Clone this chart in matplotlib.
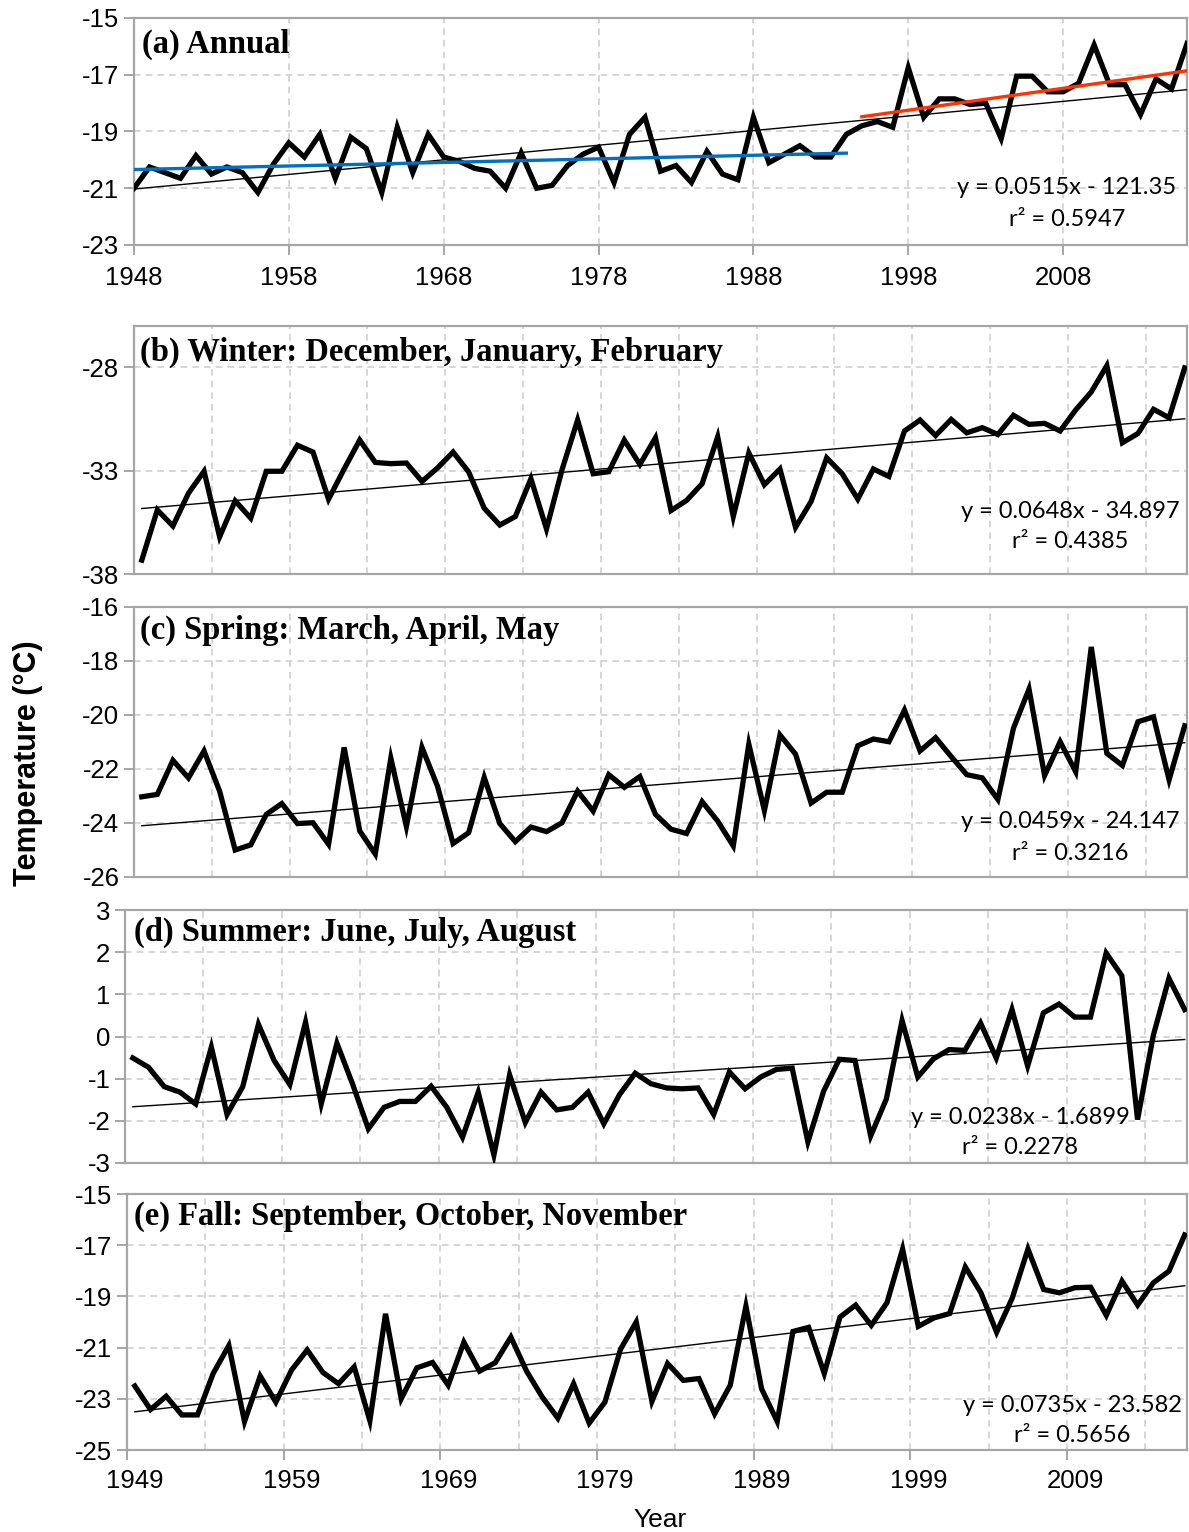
import numpy as np
import matplotlib
matplotlib.use("Agg")
import matplotlib.pyplot as plt

plt.rcParams["axes.unicode_minus"] = False

# ---------------- data ----------------
years_annual = list(range(1948, 2017))
annual = [-21.0, -20.25, -20.45, -20.65, -19.85, -20.5, -20.25, -20.45, -21.15, -20.15,
          -19.4, -19.9, -19.1, -20.65, -19.2, -19.6, -21.15, -18.85, -20.45, -19.1,
          -19.9, -20.05, -20.3, -20.4, -21.0, -19.75, -21.0, -20.9, -20.2, -19.8,
          -19.55, -20.8, -19.1, -18.5, -20.4, -20.2, -20.8, -19.7, -20.5, -20.7,
          -18.5, -20.1, -19.8, -19.5, -19.9, -19.9, -19.1, -18.8, -18.65, -18.85,
          -16.75, -18.5, -17.85, -17.85, -18.05, -18.0, -19.25, -17.05, -17.05, -17.6,
          -17.6, -17.3, -15.95, -17.35, -17.35, -18.4, -17.15, -17.5, -15.9]

years_season = list(range(1949, 2017))
winter = [-37.33, -34.9, -35.68, -34.09, -33.03, -36.2, -34.46, -35.3, -33.03, -33.03,
          -31.77, -32.1, -34.38, -32.92, -31.52, -32.6, -32.66, -32.63, -33.52, -32.87,
          -32.1, -33.06, -34.82, -35.63, -35.22, -33.39, -35.82, -32.95, -30.55, -33.15,
          -33.05, -31.52, -32.7, -31.41, -34.93, -34.44, -33.63, -31.36, -35.22, -32.14,
          -33.68, -32.92, -35.74, -34.49, -32.38, -33.15, -34.38, -32.92, -33.28, -31.08,
          -30.55, -31.3, -30.52, -31.17, -30.92, -31.25, -30.32, -30.76, -30.71, -31.08,
          -30.06, -29.19, -27.92, -31.65, -31.2, -30.03, -30.44, -28.03]
spring = [-23.03, -22.94, -21.68, -22.33, -21.33, -22.82, -25.0, -24.81, -23.68, -23.28,
          -24.02, -23.99, -24.79, -21.2, -24.29, -25.15, -21.6, -24.13, -21.2, -22.64,
          -24.76, -24.36, -22.31, -24.02, -24.69, -24.15, -24.32, -23.99, -22.82, -23.56,
          -22.21, -22.68, -22.28, -23.68, -24.23, -24.39, -23.21, -23.93, -24.85, -21.08,
          -23.54, -20.74, -21.45, -23.26, -22.86, -22.86, -21.14, -20.89, -20.99, -19.82,
          -21.33, -20.84, -21.54, -22.21, -22.33, -23.13, -20.49, -19.04, -22.24, -20.99,
          -22.1, -17.48, -21.42, -21.87, -20.25, -20.07, -22.4, -20.4]
summer = [-0.51, -0.73, -1.19, -1.32, -1.6, -0.25, -1.85, -1.19, 0.29, -0.57,
          -1.14, 0.34, -1.6, -0.16, -1.13, -2.19, -1.68, -1.54, -1.54, -1.18,
          -1.68, -2.39, -1.32, -2.81, -0.91, -2.04, -1.32, -1.74, -1.68, -1.32,
          -2.07, -1.38, -0.87, -1.12, -1.22, -1.24, -1.22, -1.85, -0.84, -1.24,
          -0.96, -0.78, -0.75, -2.5, -1.3, -0.54, -0.57, -2.36, -1.48, 0.38,
          -0.96, -0.53, -0.31, -0.33, 0.32, -0.51, 0.64, -0.70, 0.56, 0.77,
          0.46, 0.46, 1.98, 1.44, -1.97, 0.02, 1.38, 0.64]
fall = [-22.5, -23.42, -22.9, -23.63, -23.63, -22.01, -20.92, -23.89, -22.11, -23.13,
        -21.88, -21.09, -21.97, -22.41, -21.75, -23.86, -19.68, -23.0, -21.79, -21.58,
        -22.47, -20.79, -21.92, -21.59, -20.59, -21.92, -22.93, -23.76, -22.41, -23.95,
        -23.13, -21.06, -20.0, -23.1, -21.62, -22.28, -22.21, -23.59, -22.47, -19.38,
        -22.61, -23.89, -20.37, -20.21, -22.01, -19.81, -19.34, -20.13, -19.25, -17.15,
        -20.17, -19.84, -19.67, -17.85, -18.86, -20.40, -19.06, -17.15, -18.73, -18.86,
        -18.66, -18.64, -19.74, -18.4, -19.34, -18.47, -18.01, -16.6]

# trend equations as printed on the chart (x = year for annual, x = index for seasons)
eq_annual = (0.0515, -121.35, 0.5947)
eq_winter = (0.0648, -34.897, 0.4385)
eq_spring = (0.0459, -24.147, 0.3216)
eq_summer = (0.0238, -1.6899, 0.2278)
eq_fall = (0.0735, -23.582, 0.5656)

split_year = 1994  # blue fit up to this year, red fit after

panel_titles = ["(a) Annual", "(b) Winter: December, January, February",
                "(c) Spring: March, April, May", "(d) Summer: June, July, August",
                "(e) Fall: September, October, November"]

# ---------------- layout ----------------
W, H = 1189, 1532
fig = plt.figure(figsize=(W / 100, H / 100), dpi=100)

def rect(l, t, r, b):
    return [l / W, 1 - b / H, (r - l) / W, (b - t) / H]

SP = "#a6a6a6"
GR = "#d0d0d0"
TICKSIZE = 18.5
TITLEFONT = dict(family="Liberation Serif", weight="bold", size=23.5)
EQFONT = dict(family="Lato", size=17)

def style(ax):
    for s in ax.spines.values():
        s.set_color(SP)
        s.set_linewidth(1.6)
    ax.tick_params(axis="both", colors=SP, labelcolor="black", width=1.4, length=7,
                   direction="out", labelsize=TICKSIZE)
    for lab in ax.get_yticklabels() + ax.get_xticklabels():
        lab.set_fontfamily("Liberation Sans")
    ax.set_axisbelow(True)

def hgrid(ax, vals):
    for v in vals:
        ax.axhline(v, color=GR, lw=1.2, ls=(0, (4, 3)), zorder=0)

def vgrid(ax, vals):
    for v in vals:
        ax.axvline(v, color=GR, lw=1.2, ls=(0, (4, 3)), zorder=0)

def eqtext(cx, cy, eq, sep=32):
    s, i, r2 = eq
    sign = "-" if i < 0 else "+"
    fig.text(cx / W, 1 - cy / H, f"y = {s:g}x {sign} {abs(i):g}", ha="center", va="center", **EQFONT)
    fig.text(cx / W, 1 - (cy + sep) / H, f"r\u00b2 = {r2:.4f}", ha="center", va="center", **EQFONT)

LW = 3.8

# ----- (a) annual -----
ax = fig.add_axes(rect(134, 18, 1187, 245))
ya = np.array(years_annual)
va = np.array(annual)
ax.plot(ya, va, color="black", lw=LW, solid_joinstyle="miter", zorder=3)
ax.plot(ya, eq_annual[0] * ya + eq_annual[1], color="black", lw=1.0, zorder=4)
m1 = ya <= split_year
p1 = np.polyfit(ya[m1], va[m1], 1)
ax.plot(ya[m1], np.polyval(p1, ya[m1]), color="#0070C0", lw=2.4, zorder=5)
m2 = ya > split_year
p2 = np.polyfit(ya[m2], va[m2], 1)
ax.plot(ya[m2], np.polyval(p2, ya[m2]), color="#FF3300", lw=2.4, zorder=5)
ax.set_xlim(1948, 2016)
ax.set_ylim(-23, -15)
ax.set_xticks(np.arange(1948, 2009, 10))
ax.set_yticks(np.arange(-23, -14, 2))
hgrid(ax, np.arange(-21, -14, 2))
vgrid(ax, np.arange(1958, 2016, 10))
style(ax)
ax.tick_params(axis="x", pad=8)
ax.text(0.008, 0.885, panel_titles[0], transform=ax.transAxes, ha="left", va="center", **TITLEFONT)
eqtext(1067, 187, eq_annual)

# ----- seasonal panels -----
seasons = [
    (winter, eq_winter, (134, 326, 1187, 574), (-38, -26), [-38, -33, -28], [-33, -28], (140, 352), (1070, 511)),
    (spring, eq_spring, (134, 607, 1187, 877), (-26, -16), np.arange(-26, -15, 2), np.arange(-24, -15, 2), (140, 630), (1070, 822)),
    (summer, eq_summer, (125, 910, 1187, 1163), (-3, 3), np.arange(-3, 4, 1), np.arange(-2, 4, 1), (134, 932), (1020, 1117)),
    (fall, eq_fall, (127, 1194, 1187, 1450), (-25, -15), np.arange(-25, -14, 2), np.arange(-23, -14, 2), (134, 1216), (1072, 1405)),
]
ys = np.array(years_season)
idx = np.arange(1, len(ys) + 1)
for k, (vals, eq, box, ylim, yt, yg, tpos, epos) in enumerate(seasons):
    ax = fig.add_axes(rect(*box))
    v = np.array(vals)
    ax.plot(ys, v, color="black", lw=LW, solid_joinstyle="miter", zorder=3)
    ax.plot(ys, eq[0] * idx + eq[1], color="black", lw=1.0, zorder=4)
    ax.set_xlim(1948.5, 2016.15)
    ax.set_ylim(*ylim)
    ax.set_yticks(yt)
    hgrid(ax, yg)
    vgrid(ax, np.arange(1953.5, 2016, 5))
    style(ax)
    if k < 3:
        ax.set_xticks([])
    else:
        ax.set_xticks(np.arange(1949, 2010, 10))
        ax.set_xticks(np.arange(1948.5, 2010, 10), minor=True)
        ax.tick_params(axis="x", which="major", length=0, pad=14)
        ax.tick_params(axis="x", which="minor", length=7, width=1.4, color=SP)
    fig.text(tpos[0] / W, 1 - tpos[1] / H, panel_titles[k + 1], ha="left", va="center", **TITLEFONT)
    eqtext(epos[0], epos[1], eq, sep=31)

fig.text(28 / W, 1 - 763 / H, "Temperature (\u00b0C)", rotation=90, ha="center", va="center",
         family="Liberation Sans", weight="bold", size=22)
fig.text(660 / W, 1 - 1520 / H, "Year", ha="center", va="center", family="Liberation Sans", size=19)

fig.savefig("out.png", dpi=100)
